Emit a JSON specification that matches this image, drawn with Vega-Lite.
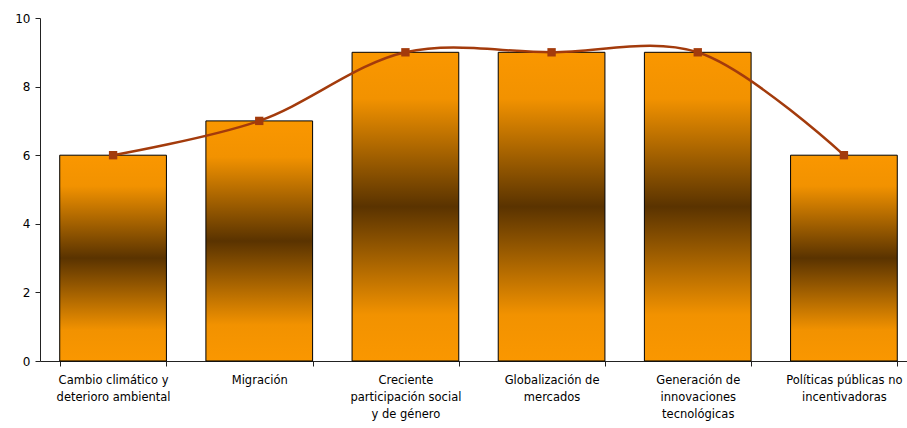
{
  "$schema": "https://vega.github.io/schema/vega-lite/v6.json",
  "autosize": "none",
  "padding": {"left": 40, "top": 18, "right": 0, "bottom": 67},
  "width": 867,
  "height": 343,
  "config": {"view": {"stroke": null}, "font": "DejaVu Sans"},
  "data": {"values": [
    {"categoria": "Cambio climático y\ndeterioro ambiental", "valor": 6},
    {"categoria": "Migración", "valor": 7},
    {"categoria": "Creciente\nparticipación social\ny de género", "valor": 9},
    {"categoria": "Globalización de\nmercados", "valor": 9},
    {"categoria": "Generación de\ninnovaciones\ntecnológicas", "valor": 9},
    {"categoria": "Políticas públicas no\nincentivadoras", "valor": 6}
  ]},
  "encoding": {
    "x": {"field": "categoria", "type": "nominal", "sort": null,
      "scale": {"paddingInner": 0.27, "paddingOuter": 0.135, "range": [0, 877]},
      "axis": {"title": null, "labelAngle": 0, "labelExpr": "isValid(datum.value) ? split(datum.value, '\\n') : ''",
        "labelLineHeight": 17, "labelFontSize": 11.5, "labelColor": "#000", "labelFont": "DejaVu Sans",
        "labelPadding": 8, "tickBand": "extent", "tickSize": 5, "tickColor": "#222", "domainColor": "#222", "labelBaseline": "top"}},
    "y": {"field": "valor", "type": "quantitative",
      "scale": {"domain": [0, 10]},
      "axis": {"title": null, "values": [0, 2, 4, 6, 8, 10], "grid": false, "tickSize": 5,
        "labelFontSize": 12, "labelColor": "#000", "labelPadding": 5, "tickColor": "#222", "domainColor": "#222"}}
  },
  "layer": [
    {"mark": {"type": "bar", "stroke": "#000", "strokeWidth": 1,
      "color": {"gradient": "linear", "x1": 0, "y1": 0, "x2": 0, "y2": 1,
        "stops": [
          {"offset": 0, "color": "#FA9700"},
          {"offset": 0.15, "color": "#F29200"},
          {"offset": 0.5, "color": "#5A3300"},
          {"offset": 0.85, "color": "#F29200"},
          {"offset": 1, "color": "#FA9700"}
        ]}}},
    {"mark": {"type": "line", "interpolate": "catmull-rom", "color": "#A33B0C", "strokeWidth": 2.5}},
    {"mark": {"type": "point", "shape": "square", "filled": true, "size": 70, "color": "#A33B0C", "opacity": 1}}
  ]
}
